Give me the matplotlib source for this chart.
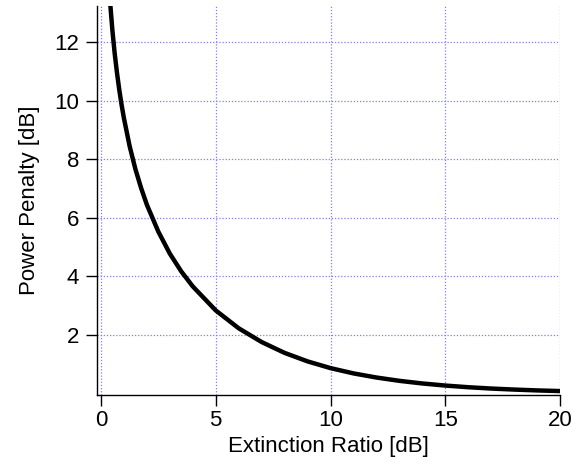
import matplotlib
matplotlib.use("Agg")
import matplotlib.pyplot as plt

# extinction ratio [dB] vs power penalty [dB]
ext_ratio = [0.4, 0.5, 0.6, 0.7, 0.8, 0.9, 1.0, 1.25, 1.5, 1.75, 2.0, 2.5, 3.0, 3.5,
             4.0, 5.0, 6.0, 7.0, 8.0, 9.0, 10, 11, 12, 13, 14, 15, 16, 17, 18, 19, 20]
penalty = [13.37, 12.40, 11.61, 10.95, 10.37, 9.86, 9.41, 8.45, 7.67, 7.02, 6.45, 5.53,
           4.78, 4.17, 3.66, 2.84, 2.23, 1.76, 1.39, 1.10, 0.87, 0.69, 0.549, 0.436,
           0.346, 0.275, 0.218, 0.173, 0.138, 0.109, 0.087]

x_ticks = [0, 5, 10, 15, 20]
y_ticks = [2, 4, 6, 8, 10, 12]

plt.rcParams['font.family'] = ['Liberation Sans', 'DejaVu Sans']

fig = plt.figure(figsize=(5.74, 4.67), dpi=100)
ax = fig.add_axes([0.169, 0.154, 0.807, 0.833])

ax.plot(ext_ratio, penalty, color='black', lw=3.2, solid_capstyle='butt', zorder=3)

ax.set_xlim(-0.17, 20)
ax.set_ylim(-0.05, 13.23)
ax.set_xticks(x_ticks)
ax.set_yticks(y_ticks)

ax.grid(True, color='#7f7fff', linestyle=(0, (1, 1.5)), lw=0.9)

for s in ['top', 'right']:
    ax.spines[s].set_visible(False)
for s in ['left', 'bottom']:
    ax.spines[s].set_linewidth(1.0)

ax.tick_params(direction='out', length=8, width=1.0, labelsize=16)
ax.tick_params(axis='x', pad=3)
ax.tick_params(axis='y', pad=5)

ax.set_xlabel('Extinction Ratio [dB]', fontsize=16, labelpad=3)
ax.set_ylabel('Power Penalty [dB]', fontsize=16, labelpad=10)

fig.savefig('out.png', dpi=100)
